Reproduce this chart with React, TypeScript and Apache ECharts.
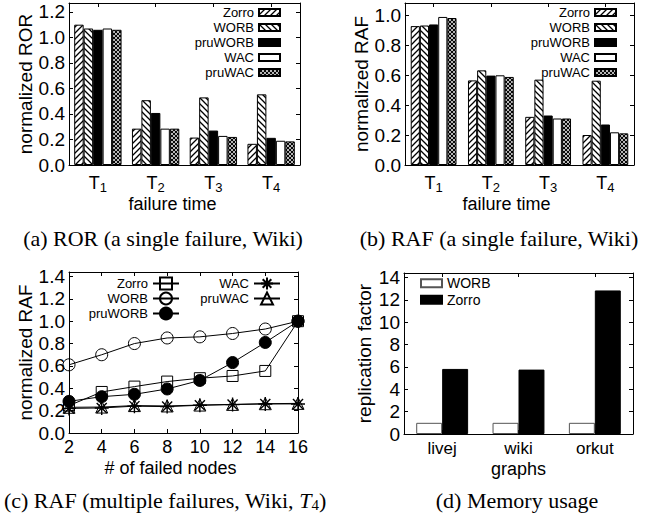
import React, { useEffect, useRef } from 'react';
import * as echarts from 'echarts';

// ---------- data ----------
const failureTimes = ['T1', 'T2', 'T3', 'T4'];
const rorZorro = [1.1, 0.285, 0.215, 0.166];
const rorWORB = [1.07, 0.508, 0.53, 0.554];
const rorPruWORB = [1.06, 0.408, 0.27, 0.213];
const rorWAC = [1.07, 0.285, 0.228, 0.19];
const rorPruWAC = [1.06, 0.285, 0.22, 0.185];

const rafZorro = [0.926, 0.564, 0.321, 0.2];
const rafWORB = [0.93, 0.631, 0.569, 0.562];
const rafPruWORB = [0.937, 0.596, 0.33, 0.27];
const rafWAC = [0.987, 0.598, 0.31, 0.218];
const rafPruWAC = [0.98, 0.587, 0.31, 0.211];

const failedNodes = [2, 4, 6, 8, 10, 12, 14, 16];
const multiZorro = [0.245, 0.367, 0.415, 0.46, 0.49, 0.51, 0.555, 1.0];
const multiWORB = [0.61, 0.7, 0.8, 0.85, 0.86, 0.89, 0.93, 1.0];
const multiPruWORB = [0.283, 0.325, 0.346, 0.394, 0.47, 0.63, 0.81, 1.0];
const multiWAC = [0.22, 0.224, 0.24, 0.236, 0.248, 0.254, 0.26, 0.26];
const multiPruWAC = [0.23, 0.232, 0.245, 0.242, 0.25, 0.256, 0.262, 0.265];

const graphs = ['livej', 'wiki', 'orkut'];
const memWORB = [1.0, 1.0, 1.0];
const memZorro = [5.82, 5.76, 12.84];

const methods = ['Zorro', 'WORB', 'pruWORB', 'WAC', 'pruWAC'];

const FONT = '"Liberation Sans", Arial, Helvetica, sans-serif';
const SERIF = '"Liberation Serif", "Times New Roman", serif';

function pattern(kind: string) {
  const s = kind === 'cross' ? 4 : 6;
  const c = document.createElement('canvas');
  c.width = s;
  c.height = s;
  const ctx = c.getContext('2d') as CanvasRenderingContext2D;
  ctx.fillStyle = '#fff';
  ctx.fillRect(0, 0, s, s);
  ctx.strokeStyle = '#000';
  ctx.lineWidth = kind === 'cross' ? 1.1 : 1.3;
  const fwd = () => {
    ctx.beginPath();
    ctx.moveTo(0, s); ctx.lineTo(s, 0);
    ctx.moveTo(-1, 1); ctx.lineTo(1, -1);
    ctx.moveTo(s - 1, s + 1); ctx.lineTo(s + 1, s - 1);
    ctx.stroke();
  };
  const back = () => {
    ctx.beginPath();
    ctx.moveTo(0, 0); ctx.lineTo(s, s);
    ctx.moveTo(-1, s - 1); ctx.lineTo(1, s + 1);
    ctx.moveTo(s - 1, -1); ctx.lineTo(s + 1, 1);
    ctx.stroke();
  };
  if (kind === 'fwd') fwd();
  else if (kind === 'back') back();
  else { fwd(); back(); }
  return { image: c, repeat: 'repeat', imageWidth: s, imageHeight: s };
}

export default function App() {
  const ref = useRef<HTMLDivElement>(null);
  useEffect(() => {
    if (!ref.current) return;
    const chart = echarts.init(ref.current, undefined, { renderer: 'svg', width: 669, height: 520 });

    const fills: any = {
      Zorro: pattern('fwd'),
      WORB: pattern('back'),
      pruWORB: '#000',
      WAC: '#fff',
      pruWAC: pattern('cross'),
    };

    const grids = [
      { left: 69, top: 3, width: 231, height: 162 },
      { left: 405, top: 3, width: 229, height: 162 },
      { left: 69, top: 272, width: 229, height: 161 },
      { left: 404, top: 273, width: 229, height: 161 },
    ];

    const axisLine = { show: true, onZero: false, lineStyle: { color: '#000', width: 1 } };
    const tickIn = { show: true, inside: true, length: 4, lineStyle: { color: '#000', width: 1 } };
    const labelStyle = { color: '#000', fontFamily: FONT, fontSize: 19 };
    const nameStyle = { color: '#000', fontFamily: FONT, fontSize: 18 };

    const catAxis = (gi: number, data: string[], rich: boolean, nameText: string, padRight: number) => [
      {
        type: 'category', gridIndex: gi, position: 'bottom', data,
        axisLine, axisTick: { ...tickIn, alignWithLabel: true, interval: 0 },
        axisLabel: rich
          ? {
              margin: 6, interval: 0,
              formatter: (v: string) => `{t|T}{s|${v.slice(1)}}`,
              rich: {
                t: { ...labelStyle, fontSize: 18 },
                s: { ...labelStyle, fontSize: 13, padding: [10, 0, 0, 0] },
              },
            }
          : { ...labelStyle, fontSize: 17, margin: 6, interval: 0 },
        name: nameText, nameLocation: 'middle', nameGap: 26,
        nameTextStyle: { ...nameStyle, padding: [0, padRight, 0, 0] },
      },
      {
        type: 'category', gridIndex: gi, position: 'top', data,
        axisLine, axisTick: { ...tickIn, alignWithLabel: true, interval: 0 }, axisLabel: { show: false },
      },
    ];

    const valFormatter = (interval: number, digits: number) => (v: number) =>
      Math.abs(v / interval - Math.round(v / interval)) < 1e-6 ? v.toFixed(digits) : '';

    const valY = (gi: number, max: number, interval: number, digits: number, nameText: string, gap: number) => [
      {
        type: 'value', gridIndex: gi, position: 'left', min: 0, max, interval,
        axisLine, axisTick: tickIn, splitLine: { show: false },
        axisLabel: { ...labelStyle, margin: 4, formatter: valFormatter(interval, digits) },
        name: nameText, nameLocation: 'middle', nameGap: gap,
        nameTextStyle: { ...nameStyle, fontSize: 19 },
      },
      {
        type: 'value', gridIndex: gi, position: 'right', min: 0, max, interval,
        axisLine, axisTick: tickIn, splitLine: { show: false }, axisLabel: { show: false },
      },
    ];

    const xAxis = [
      ...catAxis(0, failureTimes, true, 'failure time', 24),
      ...catAxis(1, failureTimes, true, 'failure time', 26),
      {
        type: 'value', gridIndex: 2, position: 'bottom', min: 2, max: 16, interval: 2,
        axisLine, axisTick: tickIn, splitLine: { show: false },
        axisLabel: { ...labelStyle, fontSize: 18, margin: 5 },
        name: '# of failed nodes', nameLocation: 'middle', nameGap: 26,
        nameTextStyle: { ...nameStyle, padding: [0, 26, 0, 0] },
      },
      {
        type: 'value', gridIndex: 2, position: 'top', min: 2, max: 16, interval: 2,
        axisLine, axisTick: tickIn, splitLine: { show: false }, axisLabel: { show: false },
      },
      ...catAxis(3, graphs, false, 'graphs', 0),
    ];

    const yAxis = [
      ...valY(0, 1.27, 0.2, 1, 'normalized ROR', 31),
      ...valY(1, 1.08, 0.2, 1, 'normalized RAF', 32),
      ...valY(2, 1.44, 0.2, 1, 'normalized RAF', 31),
      ...valY(3, 14.4, 2, 0, 'replication factor', 30),
    ];

    const bar = (name: string, data: number[], xi: number, yi: number, fill: any, gap: string, border = '#000') => ({
      type: 'bar', name, data, xAxisIndex: xi, yAxisIndex: yi,
      barGap: '0%', barCategoryGap: gap, silent: true,
      itemStyle: { color: fill, borderColor: border, borderWidth: 1 },
      emphasis: { disabled: true },
    });

    const rorData = [rorZorro, rorWORB, rorPruWORB, rorWAC, rorPruWAC];
    const rafData = [rafZorro, rafWORB, rafPruWORB, rafWAC, rafPruWAC];
    const multiData = [multiZorro, multiWORB, multiPruWORB, multiWAC, multiPruWAC];

    const star = 'path://M5,0L5,10M0,5L10,5M1.4,1.4L8.6,8.6M1.4,8.6L8.6,1.4';
    const lineMarks: any = {
      Zorro: { symbol: 'rect', size: 11, fill: 'rgba(255,255,255,0)' },
      WORB: { symbol: 'circle', size: 12, fill: 'rgba(255,255,255,0)' },
      pruWORB: { symbol: 'circle', size: 12, fill: '#000' },
      WAC: { symbol: star, size: 14, fill: 'rgba(255,255,255,0)' },
      pruWAC: { symbol: 'triangle', size: 12, fill: 'rgba(255,255,255,0)' },
    };

    const series: any[] = [
      ...methods.map((m, i) => bar(m + '|a', rorData[i], 0, 0, fills[m], '18%')),
      ...methods.map((m, i) => bar(m + '|b', rafData[i], 2, 2, fills[m], '20%')),
      ...methods.map((m, i) => ({
        type: 'line', name: m + '|c', xAxisIndex: 4, yAxisIndex: 4,
        data: failedNodes.map((x, j) => [x, multiData[i][j]]),
        symbol: lineMarks[m].symbol, symbolSize: lineMarks[m].size, silent: true,
        lineStyle: { color: '#000', width: 1 },
        itemStyle: { color: lineMarks[m].fill, borderColor: '#000', borderWidth: m === 'WAC' ? 1.4 : 1 },
        emphasis: { disabled: true },
      })),
      bar('WORB|d', memWORB, 6, 6, '#fff', '32%', '#555'),
      bar('Zorro|d', memZorro, 6, 6, '#000', '32%'),
    ];

    const fmt = (n: string) => n.split('|')[0];
    const legendText = { color: '#000', fontFamily: FONT, fontSize: 13, lineHeight: 15 };
    const legendBase = {
      orient: 'vertical', padding: 0, itemGap: 0, selectedMode: false,
      formatter: fmt, textStyle: legendText,
    };

    const legend = [
      { ...legendBase, align: 'right', right: 388, top: 5, itemWidth: 21, itemHeight: 7, icon: 'rect',
        data: methods.map((m) => m + '|a') },
      { ...legendBase, align: 'right', right: 52, top: 5, itemWidth: 21, itemHeight: 7, icon: 'rect',
        data: methods.map((m) => m + '|b') },
      { ...legendBase, align: 'right', right: 489, top: 276, itemWidth: 26, itemHeight: 15,
        data: ['Zorro|c', 'WORB|c', 'pruWORB|c'] },
      { ...legendBase, align: 'right', right: 388, top: 276, itemWidth: 26, itemHeight: 15,
        data: ['WAC|c', 'pruWAC|c'] },
      { ...legendBase, align: 'left', left: 420, top: 275, itemWidth: 21, itemHeight: 8, icon: 'rect',
        textStyle: { ...legendText, fontSize: 14, lineHeight: 16.5 },
        data: ['WORB|d', 'Zorro|d'] },
    ];

    const cap = (x: number, y: number, text: string, rich?: any) => ({
      type: 'text', x, y, silent: true,
      style: {
        text, align: 'center', verticalAlign: 'middle', fill: '#000',
        fontFamily: SERIF, fontSize: 22, rich,
      },
    });

    const graphic = [
      cap(163, 238, '(a) ROR (a single failure, Wiki)'),
      cap(499, 238, '(b) RAF (a single failure, Wiki)'),
      cap(165, 500, '{n|(c) RAF (multiple failures, Wiki, }{i|T}{s|4}{n|)}', {
        n: { fontFamily: SERIF, fontSize: 22, fill: '#000' },
        i: { fontFamily: SERIF, fontSize: 22, fontStyle: 'italic', fill: '#000' },
        s: { fontFamily: SERIF, fontSize: 15, fill: '#000', padding: [10, 0, 0, 0] },
      }),
      cap(517, 500, '(d) Memory usage'),
    ];

    chart.setOption({
      animation: false,
      backgroundColor: '#fff',
      textStyle: { fontFamily: FONT },
      grid: grids,
      xAxis,
      yAxis,
      legend,
      series,
      graphic,
    } as any);

    return () => chart.dispose();
  }, []);

  return (
    <div
      ref={ref}
      style={{ position: 'absolute', left: 0, top: 0, width: 669, height: 520, background: '#fff' }}
    />
  );
}
